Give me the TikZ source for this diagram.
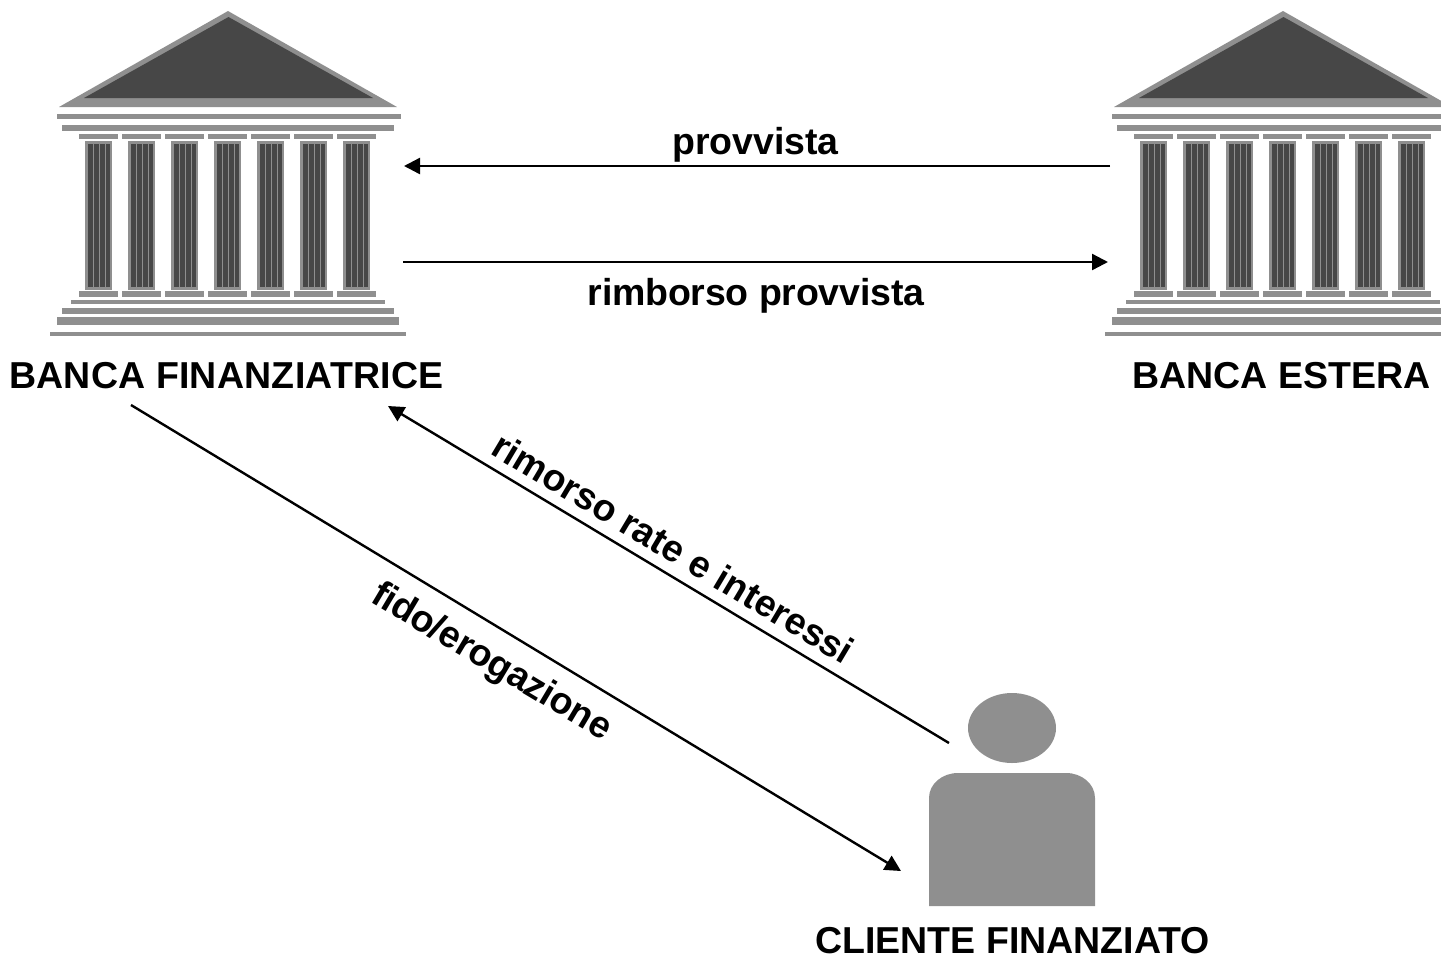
\documentclass[tikz,border=0pt]{standalone}
\usepackage{fontspec}
\setmainfont{Liberation Sans}
\usetikzlibrary{arrows.meta}
\definecolor{stoneD}{HTML}{474747}
\definecolor{stoneM}{HTML}{8F8F8F}
\tikzset{
  lbl/.style={font=\fontsize{37.5}{40}\selectfont\bfseries,inner sep=0pt,anchor=base,text=black},
  flow/.style={line width=2.4pt,-{Triangle[length=16pt,width=16pt]},shorten >=0pt},
  stone/.style={fill=stoneM,draw=none},
  dark/.style={fill=stoneD,draw=none}
}
\newcommand{\bankshape}[1]{%
\begin{scope}[xshift=#1pt]
  \fill[stone] (228,11) -- (397,107) -- (59,107) -- cycle;
  \fill[dark] (228.5,17) -- (373,98) -- (84,98) -- cycle;
  \fill[stone] (57,114) rectangle (401,119);
  \fill[stone] (62,125) rectangle (394,131);
  \foreach \i in {0,...,6}{
    \pgfmathsetmacro{\cx}{85+43*\i}
    \fill[stone] (\cx-6,134) rectangle (\cx+32.5,139);
    \fill[stone] (\cx-6,291) rectangle (\cx+32.5,297);
    \fill[stone] (\cx,141) rectangle (\cx+27,290);
    \foreach \s in {3,9,15,20.5}{
      \fill[dark] (\cx+\s,144) rectangle (\cx+\s+4.8,287);
    }
  }
  \fill[stone] (71,300) rectangle (385,304);
  \fill[stone] (62,308) rectangle (394,314);
  \fill[stone] (57,317) rectangle (399,325);
  \fill[stone] (50,332) rectangle (406,336);
\end{scope}}
\begin{document}
\begin{tikzpicture}[x=1pt,y=-1pt]
\useasboundingbox (0,0) rectangle (1441,959);
\clip (0,0) rectangle (1441,959);
\bankshape{0}
\bankshape{1055}
% person
\fill[stone] (1012,728) ellipse [x radius=44,y radius=35];
\fill[stone] (929,906) -- (929,798) .. controls (929,784) and (942,773) .. (958,773)
  -- (1066,773) .. controls (1082,773) and (1095,784) .. (1095,798) -- (1095,906) -- cycle;
% labels
\node[lbl] (nBF) at (226.5,388) {\addfontfeature{LetterSpace=0.7}BANCA FINANZIATRICE};
\node[lbl] (nBE) at (1281.5,388) {BANCA ESTERA};
\node[lbl] (nCF) at (1012.5,953) {CLIENTE FINANZIATO};
\node[lbl] (nPr) at (755.5,154) {\addfontfeature{LetterSpace=-0.4}provvista};
\node[lbl] (nRp) at (756,305) {\addfontfeature{LetterSpace=-0.5}rimborso provvista};
\node[lbl,rotate=-30.8] (nRr) at (666.5,559.5) {\addfontfeature{LetterSpace=-0.3}rimorso rate e interessi};
\node[lbl,rotate=-30.8] (nFe) at (486,671) {\addfontfeature{LetterSpace=-0.9}fido/erogazione};
% connector ends
\coordinate (a1) at (1110,166);
\coordinate (a2) at (404,166);
\coordinate (b1) at (403,262);
\coordinate (b2) at (1108,262);
\coordinate (c1) at (949,743);
\coordinate (c2) at (388,406);
\coordinate (d1) at (131,405);
\coordinate (d2) at (901,871);
\draw[flow] (a1) -- (a2);
\draw[flow] (b1) -- (b2);
\draw[flow] (c1) -- (c2);
\draw[flow] (d1) -- (d2);
\end{tikzpicture}
\end{document}
